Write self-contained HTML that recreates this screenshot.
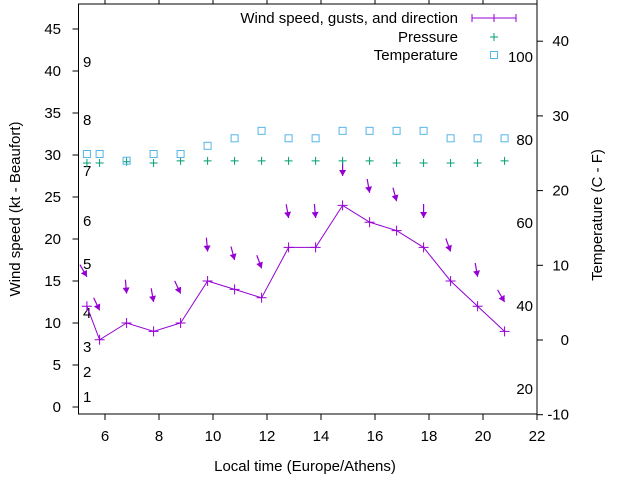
<!DOCTYPE html>
<html><head><meta charset="utf-8"><style>
html,body{margin:0;padding:0;background:#fff;}
svg{display:block;font-family:"Liberation Sans",sans-serif;}
</style></head><body>
<svg id="c" width="640" height="480" viewBox="0 0 640 480">
<rect x="0" y="0" width="640" height="480" fill="#fff"/>
<g id="axes"></g><g id="marks"></g>
</svg>
<script>
const times=[5.33,5.8,6.8,7.8,8.8,9.8,10.8,11.8,12.8,13.8,14.8,15.8,16.8,17.8,18.8,19.8,20.8];
const windKt=[12,8,10,9,10,15,14,13,19,19,24,22,21,19,15,12,9];
const windDir=[330,335,355,350,335,355,345,340,350,355,0,350,345,0,340,350,330];
const tempC=[24.9,24.9,24,24.9,24.9,26,27,28,27,27,28,28,28,28,27,27,27];
const pressure=[29.05,29.05,29.2,29.05,29.3,29.3,29.3,29.3,29.3,29.3,29.3,29.3,29.05,29.05,29.05,29.05,29.3];
const xTicks=[6,8,10,12,14,16,18,20,22];
const yTicks=[0,5,10,15,20,25,30,35,40,45];
const y2Ticks=[-10,0,10,20,30,40];
const beaufort=[[1,397],[2,372],[3,347],[4,313],[5,264],[6,221],[7,171],[8,120],[9,62]];
const fahr=[[20,389],[40,306],[60,223],[80,140],[100,57]];
const L=78.5,R=537,T=4,B=414;
const X=t=>105+27*(t-6);
const Y=v=>407-8.4*v;
const Y2=c=>340-7.47*c;
const NS='http://www.w3.org/2000/svg';
function mk(tag,attrs,parent,txt){const e=document.createElementNS(NS,tag);for(const k in attrs)e.setAttribute(k,attrs[k]);if(txt!==undefined)e.textContent=txt;parent.appendChild(e);return e;}
const ax=document.getElementById('axes'),mg=document.getElementById('marks');
let e=mk('rect',{x:L,y:T,width:R-L,height:B-T,fill:'none',stroke:'#000','stroke-width':1},ax);


xTicks.forEach(t=>{
 let l=mk('line',{x1:X(t),x2:X(t),y1:B,y2:B+6,stroke:'#000'},ax);
 
 
 let l2=mk('line',{x1:X(t),x2:X(t),y1:0,y2:T,stroke:'#000'},ax);
 
 
 let tx=mk('text',{x:X(t),y:441,'text-anchor':'middle','font-size':15,fill:'#000'},ax,String(t));
 
 
});
yTicks.forEach(v=>{
 let l=mk('line',{x1:L-6,x2:L,y1:Y(v),y2:Y(v),stroke:'#000'},ax);
 
 
 let tx=mk('text',{x:61,y:Y(v)+5,'text-anchor':'end','font-size':15,fill:'#000'},ax,String(v));
 
 
});
y2Ticks.forEach(v=>{
 let l=mk('line',{x1:R,x2:R+6,y1:Y2(v),y2:Y2(v),stroke:'#000'},ax);
 
 
 let tx=mk('text',{x:569,y:Y2(v)+5,'text-anchor':'end','font-size':15,fill:'#000'},ax,String(v));
 
 
});
beaufort.forEach(b=>{
 let tx=mk('text',{x:83,y:b[1]+5,'font-size':15,fill:'#000'},ax,String(b[0]));
 
 
});
fahr.forEach(f=>{
 let tx=mk('text',{x:533,y:f[1]+5,'text-anchor':'end','font-size':15,fill:'#000'},ax,String(f[0]));
 
 
});
e=mk('text',{x:0,y:0,transform:'translate(20,209) rotate(-90)','text-anchor':'middle','font-size':15},ax,'Wind speed (kt - Beaufort)');


e=mk('text',{x:0,y:0,transform:'translate(602,215) rotate(-90)','text-anchor':'middle','font-size':15},ax,'Temperature (C - F)');


e=mk('text',{x:305,y:471,'text-anchor':'middle','font-size':15},ax,'Local time (Europe/Athens)');


// legend
const lg=[['Wind speed, gusts, and direction',18],['Pressure',37],['Temperature',55]];
lg.forEach(r=>{let t=mk('text',{x:458,y:r[1]+5,'text-anchor':'end','font-size':15},ax,r[0]);
 
 });
const P='#9400d3',G='#009e73',Bl='#56b4e9';
e=mk('path',{d:'M472 18H516M472 14V22M516 14V22M490 18H498M494 14V22',stroke:P,fill:'none'},ax);


e=mk('path',{d:'M490 37H498M494 33V41',stroke:G,fill:'none'},ax);


e=mk('rect',{x:490.5,y:51.5,width:7,height:7,stroke:Bl,fill:'none'},ax);


// wind line
e=mk('polyline',{points:times.map((t,i)=>X(t)+','+Y(windKt[i])).join(' '),fill:'none',stroke:P,'stroke-width':1},mg);


times.forEach((t,i)=>{
 const x=X(t),y=Y(windKt[i]);
 let p=mk('path',{d:`M${x-5} ${y}H${x+5}M${x} ${y-5}V${y+5}`,stroke:P},mg);
 
 
 // direction arrow
 const hx=x,hy=Y(windKt[i]+3.5),a=windDir[i]*Math.PI/180,len=14;
 const dx=-Math.sin(a),dy=Math.cos(a); // pointing direction (downwind)
 const tx=hx-dx*len,ty=hy-dy*len;
 const px=-dy,py=dx;
 let ar=mk('g',{},mg);
 
 
 mk('line',{x1:tx,y1:ty,x2:hx,y2:hy,stroke:P,'stroke-width':1.2},ar);
 mk('polygon',{points:`${hx},${hy} ${hx-dx*6+px*3.5},${hy-dy*6+py*3.5} ${hx-dx*6-px*3.5},${hy-dy*6-py*3.5}`,fill:P},ar);
 // pressure
 const py2=Y(pressure[i]);
 let pp=mk('path',{d:`M${x-4} ${py2}H${x+4}M${x} ${py2-4}V${py2+4}`,stroke:G},mg);
 
 
 // temperature
 const ty2=Y2(tempC[i]);
 let sq=mk('rect',{x:x-3.5,y:ty2-3.5,width:7,height:7,fill:'none',stroke:Bl},mg);
 
 
});
</script>
</body></html>
